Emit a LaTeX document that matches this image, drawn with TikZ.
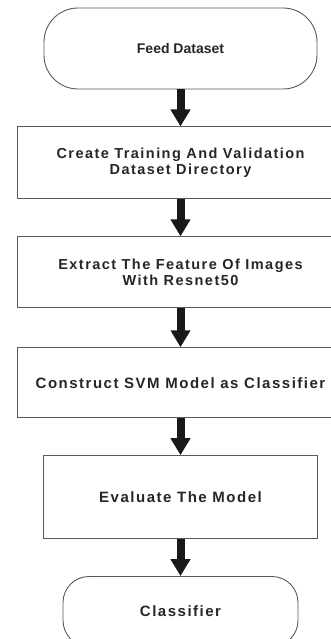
\documentclass[tikz,border=0pt]{standalone}
\usepackage{fontspec}
\setmainfont{Liberation Sans}
\newfontfamily\spacedfont[LetterSpace=10]{Liberation Sans}
\usetikzlibrary{positioning,arrows.meta}

\begin{document}
\begin{tikzpicture}[
    node distance=37pt,
    every node/.style={draw=black!65, line width=0.9pt, inner sep=0pt, align=center, text=black!85},
    terminal/.style={rectangle, rounded corners=34pt, font=\spacedfont\bfseries\fontsize{15}{17}\selectfont},
    process/.style={rectangle, minimum width=327pt, minimum height=71pt, font=\spacedfont\bfseries\fontsize{14.5}{16.5}\selectfont},
    flow/.style={line width=8pt, draw=black!90, -{Triangle[width=19pt,length=17pt]}}
]
\useasboundingbox (0,0) rectangle (331pt,-639pt);
\clip (0,0) rectangle (331pt,-639pt);

\node[terminal, minimum width=273pt, minimum height=81pt, font=\bfseries\fontsize{14}{17}\selectfont] (feed) at (180.5pt,-48.5pt) {Feed Dataset};
\node[process, minimum height=72pt, below=of feed] (create) {Create Training And Validation\\Dataset Directory};
\node[process, below=of create] (extract) {Extract The Feature Of Images\\With Resnet50};
\node[process, minimum height=70pt, below=39pt of extract, font=\spacedfont\bfseries\fontsize{15}{17}\selectfont] (construct) {Construct SVM Model as Classifier};
\node[process, minimum width=274pt, minimum height=83pt, below=of construct, font=\spacedfont\bfseries\fontsize{15}{17}\selectfont] (evaluate) {Evaluate The Model};
\node[terminal, rounded corners=26pt, minimum width=235pt, minimum height=70pt, below=of evaluate] (classifier) {Classifier};

\draw[flow] (feed) -- (create);
\draw[flow] (create) -- (extract);
\draw[flow] (extract) -- (construct);
\draw[flow] (construct) -- (evaluate);
\draw[flow] (evaluate) -- (classifier);
\end{tikzpicture}
\end{document}
